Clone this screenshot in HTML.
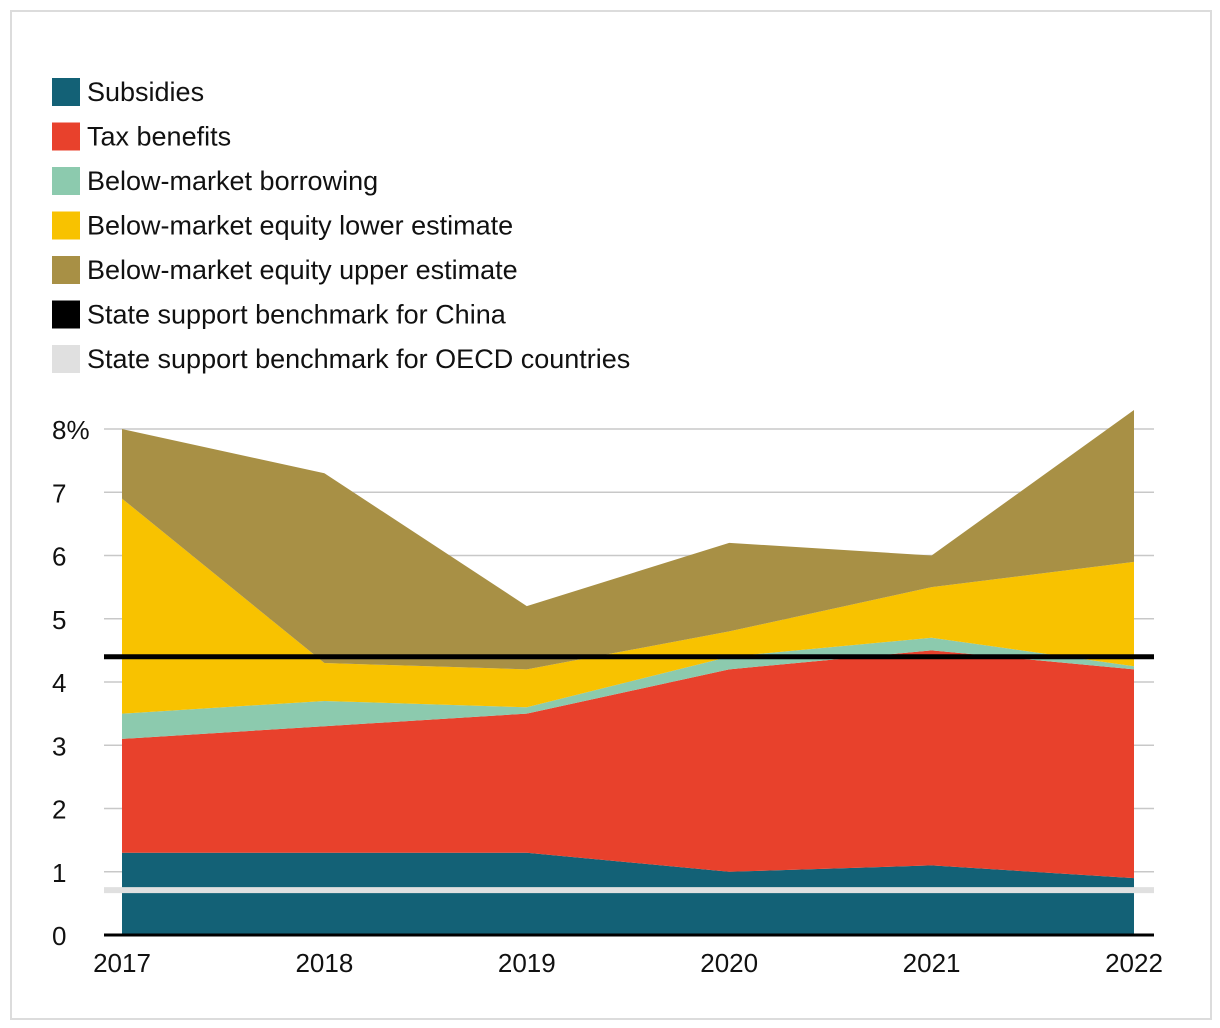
<!DOCTYPE html>
<html><head><meta charset="utf-8"><style>
body{margin:0;background:#fff;font-family:"Liberation Sans","DejaVu Sans",sans-serif;}
#frame{position:absolute;left:10px;top:10px;width:1198px;height:1006px;border:2px solid #dcdcdc;}
svg{position:absolute;left:0;top:0}
text{font-family:"Liberation Sans","DejaVu Sans",sans-serif;fill:#111}
</style></head><body>
<div id="frame"></div>
<svg id="chart" width="1220" height="1028"></svg>
<script>
const years=["2017","2018","2019","2020","2021","2022"];
const subsidies=[1.3,1.3,1.3,1.0,1.1,0.9];
const taxBenefits=[1.8,2.0,2.2,3.2,3.4,3.3];
const borrowing=[0.4,0.4,0.1,0.2,0.2,0.05];
const equityLower=[3.4,0.6,0.6,0.4,0.8,1.65];
const equityUpper=[1.1,3.0,1.0,1.4,0.5,2.4];
const chinaBenchmark=4.4;
const oecdBenchmark=0.71;
const yTicks=[0,1,2,3,4,5,6,7,8];
const seriesNames=["Subsidies","Tax benefits","Below-market borrowing","Below-market equity lower estimate","Below-market equity upper estimate"];
const seriesColors=["#136176","#e8412c","#8ccaae","#f8c200","#a89045"];
const legendItems=["Subsidies","Tax benefits","Below-market borrowing","Below-market equity lower estimate","Below-market equity upper estimate","State support benchmark for China","State support benchmark for OECD countries"];
const legendColors=["#136176","#e8412c","#8ccaae","#f8c200","#a89045","#000","#e0e0e0"];

const NS="http://www.w3.org/2000/svg";
const svg=document.getElementById('chart');
const x0=122,x1=1134,yBase=935,yTop=429;
const xs=i=>x0+(x1-x0)*i/(years.length-1);
const ys=v=>yBase-(yBase-yTop)*v/8;
function mk(t,a){const e=document.createElementNS(NS,t);for(const k in a)e.setAttribute(k,a[k]);svg.appendChild(e);return e;}

legendItems.forEach((n,i)=>{
  const cy=92+i*44.5;
  const r=mk('rect',{x:52,y:cy-14,width:28,height:28,fill:legendColors[i]});
  
  
  const t=mk('text',{x:87,y:cy+9,'font-size':27});
  t.textContent=n;
  
  
});

yTicks.forEach(v=>{
  if(v>0){const g=mk('line',{x1:104,x2:1154,y1:ys(v),y2:ys(v),stroke:'#c8c8c8','stroke-width':1.5});
  
  }
  const t=mk('text',{x:52,y:ys(v)+10,'font-size':26});
  t.textContent=v===8?'8%':String(v);
  
  
});

const series=[subsidies,taxBenefits,borrowing,equityLower,equityUpper];
let base=years.map(()=>0);
series.forEach((s,k)=>{
  const top=base.map((b,i)=>b+s[i]);
  let d='M'+top.map((v,i)=>xs(i)+','+ys(v)).join(' L');
  for(let i=years.length-1;i>=0;i--)d+=' L'+xs(i)+','+ys(base[i]);
  const p=mk('path',{d:d+'Z',fill:seriesColors[k]});
  
  
  base=top;
});

const oe=mk('line',{x1:104,x2:1154,y1:ys(oecdBenchmark),y2:ys(oecdBenchmark),stroke:'#e0e0e0','stroke-width':6});


const ch=mk('line',{x1:104,x2:1154,y1:ys(chinaBenchmark),y2:ys(chinaBenchmark),stroke:'#000','stroke-width':5});


const ax=mk('line',{x1:104,x2:1154,y1:yBase,y2:yBase,stroke:'#000','stroke-width':3});



years.forEach((y,i)=>{
  const t=mk('text',{x:xs(i),y:972,'font-size':26,'text-anchor':'middle'});
  t.textContent=y;
  
  
});
</script>
</body></html>
